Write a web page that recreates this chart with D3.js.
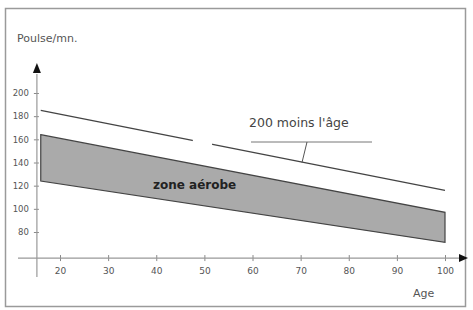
<!DOCTYPE html>
<html>
<head>
<meta charset="utf-8">
<script src="https://cdn.jsdelivr.net/npm/d3@7"></script>
<style>
  body { margin: 0; background: #fff; }
  text { font-family: "DejaVu Sans", sans-serif; }
</style>
</head>
<body>
<div id="container"></div>
<script>
/* DATA */
const ages = [16, 100];
const maxPulse = [185, 116];       // "200 moins l'âge"
const zoneTop = [164, 97];
const zoneBottom = [124, 71];
const xTicks = [20, 30, 40, 50, 60, 70, 80, 90, 100];
const yTicks = [80, 100, 120, 140, 160, 180, 200];
const gapAges = [47.6, 51.6];

const width = 473, height = 310;

const xScale = d3.scaleLinear().domain([20, 100]).range([60, 445]);
const yScale = d3.scaleLinear().domain([80, 200]).range([232, 93]);

const axisX = xScale(15.2);   // where the vertical axis sits
const axisY = yScale(57.5);   // where the horizontal axis sits

const svg = d3.select("#container").append("svg")
  .attr("width", width)
  .attr("height", height);

// frame
svg.append("rect")
  .attr("x", 5.5).attr("y", 8.5)
  .attr("width", 460).attr("height", 298)
  .attr("fill", "#fff")
  .attr("stroke", "#9a9a9a")
  .attr("stroke-width", 1.5);

const rows = ages.map((a, i) => ({ age: a, max: maxPulse[i], top: zoneTop[i], bottom: zoneBottom[i] }));

// aerobic zone
const area = d3.area()
  .x(d => xScale(d.age))
  .y0(d => yScale(d.bottom))
  .y1(d => yScale(d.top));

svg.append("path")
  .datum(rows)
  .attr("d", area)
  .attr("fill", "#aaaaaa")
  .attr("stroke", "#444")
  .attr("stroke-width", 1.2);

// max pulse line
const line = d3.line()
  .x(d => xScale(d.age))
  .y(d => yScale(d.max));

svg.append("path")
  .datum(rows)
  .attr("d", line)
  .attr("fill", "none")
  .attr("stroke", "#444")
  .attr("stroke-width", 1.3);

// small break in the line
svg.append("rect")
  .attr("x", xScale(gapAges[0]))
  .attr("y", yScale(170))
  .attr("width", xScale(gapAges[1]) - xScale(gapAges[0]))
  .attr("height", yScale(155) - yScale(170))
  .attr("fill", "#fff");

// axes
const xAxis = d3.axisBottom(xScale)
  .tickValues(xTicks)
  .tickSize(0)
  .tickPadding(10);

const gx = svg.append("g")
  .attr("transform", `translate(0,${axisY})`)
  .call(xAxis);
gx.select(".domain").remove();
gx.selectAll("text").attr("fill", "#555").attr("font-size", 9);

gx.selectAll(".tick").append("line")
  .attr("y1", -3).attr("y2", 3)
  .attr("stroke", "#888");

svg.append("line")
  .attr("x1", 18).attr("x2", 460)
  .attr("y1", axisY).attr("y2", axisY)
  .attr("stroke", "#999").attr("stroke-width", 1.2);

svg.append("path")
  .attr("d", `M468,${axisY} L459,${axisY - 4} L459,${axisY + 4} Z`)
  .attr("fill", "#111");

const yAxis = d3.axisLeft(yScale)
  .tickValues(yTicks)
  .tickSize(0)
  .tickPadding(8);

const gy = svg.append("g")
  .attr("transform", `translate(${axisX},0)`)
  .call(yAxis);
gy.select(".domain").remove();
gy.selectAll("text").attr("fill", "#555").attr("font-size", 8.5);
gy.selectAll(".tick").append("line")
  .attr("x1", -3).attr("x2", 2)
  .attr("stroke", "#888");

svg.append("line")
  .attr("x1", axisX).attr("x2", axisX)
  .attr("y1", 74).attr("y2", 277)
  .attr("stroke", "#999").attr("stroke-width", 1.2);

svg.append("path")
  .attr("d", `M${axisX},63 L${axisX - 4},73 L${axisX + 4},73 Z`)
  .attr("fill", "#111");

// labels
svg.append("text")
  .attr("x", 17).attr("y", 42)
  .attr("font-size", 11)
  .attr("fill", "#555")
  .text("Poulse/mn.");

svg.append("text")
  .attr("x", 413).attr("y", 297)
  .attr("font-size", 11)
  .attr("fill", "#555")
  .text("Age");

svg.append("text")
  .attr("x", 153).attr("y", 189)
  .attr("font-size", 12)
  .attr("font-weight", "bold")
  .attr("fill", "#222")
  .text("zone aérobe");

svg.append("text")
  .attr("x", 249).attr("y", 127)
  .attr("font-size", 12.5)
  .attr("fill", "#444")
  .text("200 moins l'âge");

svg.append("line")
  .attr("x1", 251).attr("x2", 372)
  .attr("y1", 142).attr("y2", 142)
  .attr("stroke", "#777");

svg.append("line")
  .attr("x1", 307).attr("x2", 302)
  .attr("y1", 142).attr("y2", yScale(140))
  .attr("stroke", "#555");
</script>
</body>
</html>
